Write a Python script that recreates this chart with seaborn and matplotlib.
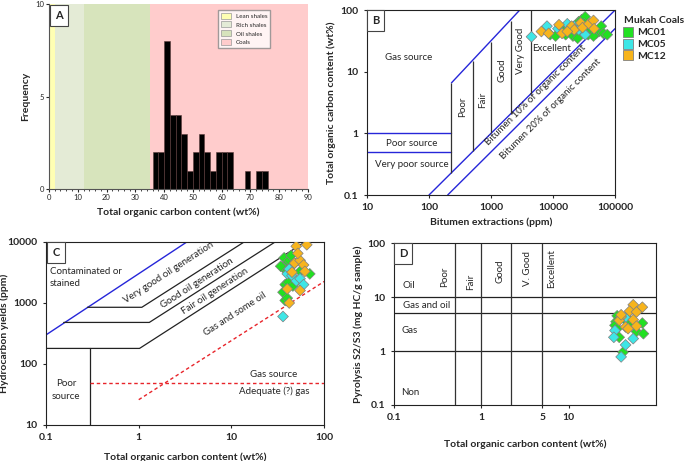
"""Four-panel source-rock plot for the Mukah coals (TOC histogram, bitumen, HC yield, S2/S3)."""

import matplotlib

matplotlib.use("Agg")
import matplotlib.pyplot as plt  # noqa: E402
import pandas as pd  # noqa: E402
import seaborn as sns  # noqa: E402
from matplotlib.patches import Patch  # noqa: E402
from matplotlib.ticker import NullLocator, MultipleLocator  # noqa: E402

# ---- panel A: TOC histogram -------------------------------------------------
toc_bin_edges = [36, 38, 40, 42, 44, 46, 48, 50, 52, 54, 56, 58, 60, 62, 64,
                 66, 68, 70, 72, 74, 76]
toc_counts = [2, 2, 8, 4, 4, 3, 1, 2, 3, 2, 1, 2, 2, 2, 0, 0, 1, 0, 1, 1]
zone_names = ["Lean shales", "Rich shales", "Oil shales", "Coals"]
zone_edges = [0, 2, 12, 35, 90]
zone_colors = ["#ffffb3", "#e4ebd6", "#d7e4bc", "#ffcccc"]

# ---- panel B: bitumen vs TOC ------------------------------------------------
b_mc01_bit = [9000, 11000, 14000, 16000, 18000, 21000, 23000, 26000, 29000, 33000,
              35000, 37000, 40000, 42000, 50000, 55000, 60000, 65000, 75000, 32000,
              45000, 25000]
b_mc01_toc = [40, 38, 47, 40, 55, 38, 45, 65, 70, 78, 45, 40, 55, 48, 42, 45, 55,
              42, 40, 60, 38, 35]
b_mc05_bit = [4500, 8000, 12000, 17000, 22000, 30000, 33000, 26000]
b_mc05_toc = [37, 55, 50, 60, 55, 45, 40, 48]
b_mc12_bit = [6500, 8500, 12500, 14000, 20000, 22000, 28000, 30000, 38000, 45000,
              46000, 17000]
b_mc12_toc = [45, 42, 58, 42, 55, 48, 62, 52, 60, 68, 50, 45]

b_src_x = [10, 230]
b_poor_src_y = [1, 1]
b_vpoor_src_y = [0.5, 0.5]
b_upper_x = [230, 2900]
b_upper_y = [6.6, 100]
b_bit10_x = [100, 100000]
b_bit10_y = [0.1, 100]
b_bit20_x = [200, 100000]
b_bit20_y = [0.1, 50]
b_grade_x = [230, 520, 1000, 2100, 4400]
b_grade_lo = [0.23, 0.52, 1.0, 2.1, 4.4]
b_grade_hi = [6.6, 15, 30, 66, 100]

# ---- panel C: TOC vs hydrocarbon yield -------------------------------------
c_mc01_toc = [37, 38, 36, 40, 42, 38, 41, 36, 38, 40, 55, 70, 44, 48, 34, 46]
c_mc01_hc = [5500, 4200, 3800, 3500, 5000, 2000, 2200, 1500, 1100, 1200, 3300,
             3000, 6000, 4500, 4000, 1900]
c_mc05_toc = [36, 40, 45, 50, 55, 60, 42]
c_mc05_hc = [600, 3000, 2800, 2300, 2500, 2000, 3600]
c_mc12_toc = [50, 65, 48, 55, 60, 45, 62, 40, 55, 42, 52]
c_mc12_hc = [8500, 9000, 4500, 5000, 4200, 3200, 3300, 1700, 1600, 1000, 6500]

c_contam_x = [0.1, 3.3]
c_contam_y = [300, 10000]
c_vgood_x = [0.28, 1.08, 13.7]
c_vgood_y = [850, 850, 10000]
c_good_x = [0.155, 1.3, 29.6]
c_good_y = [480, 480, 10000]
c_fair_x = [0.1, 1.02, 62]
c_fair_y = [180, 180, 10000]
c_poor_x = [0.3, 0.3]
c_poor_y = [10, 180]
c_gas_x = [0.3, 100]
c_gas_y = [48, 48]
c_gasoil_x = [1.0, 100]
c_gasoil_y = [26, 2250]

# ---- panel D: TOC vs S2/S3 --------------------------------------------------
d_mc01_toc = [36, 35, 34, 36, 38, 45, 50, 60, 70, 72, 42, 48]
d_mc01_s2s3 = [4.5, 3.5, 3.0, 2.6, 1.8, 3.7, 3.3, 2.3, 3.3, 2.1, 0.95, 4.0]
d_mc05_toc = [34, 33, 45, 55, 40, 45]
d_mc05_s2s3 = [2.4, 1.8, 1.3, 1.7, 0.78, 4.2]
d_mc12_toc = [55, 70, 50, 60, 40, 38, 45, 55, 60, 48, 40]
d_mc12_s2s3 = [7.2, 6.5, 5.5, 5.3, 4.3, 3.7, 2.8, 3.8, 2.9, 2.6, 4.7]

d_type_y = [10, 5, 1]
d_grade_x = [0.5, 1, 2.2, 5]

samples = ["MC01", "MC05", "MC12"]
sample_colors = {"MC01": "#22e022", "MC05": "#3ee6e6", "MC12": "#f7b41c"}

sns.set_style("ticks")
plt.rcParams["font.family"] = ["Lato", "DejaVu Sans"]
plt.rcParams["axes.edgecolor"] = "#222222"
plt.rcParams["xtick.major.size"] = 2.5
plt.rcParams["ytick.major.size"] = 2.5

fig = plt.figure(figsize=(6.85, 4.61), dpi=100)


def _frame(values_x, values_y, name):
    return pd.DataFrame({"x": values_x, "y": values_y, "sample": name})


def _scatter(ax, frames):
    df = pd.concat(frames, ignore_index=True)
    sns.scatterplot(data=df, x="x", y="y", hue="sample", palette=sample_colors,
                    marker="D", s=30, edgecolor="#808080", linewidth=0.5,
                    legend=False, ax=ax, zorder=5)


def _panel_tag(ax, letter, x, y):
    ax.text(x, y, letter, transform=ax.transAxes, ha="center", va="center",
            fontsize=8, fontweight="bold",
            bbox=dict(boxstyle="square,pad=0.45", fc="white", ec="#444444", lw=0.8))


def _ticks(ax, size=7.5):
    for lab in ax.get_xticklabels() + ax.get_yticklabels():
        lab.set_fontsize(size)
        lab.set_fontweight("bold")


# ---------------- A ----------------
axA = fig.add_axes([0.0715, 0.590, 0.378, 0.401])
for lo, hi, col in zip(zone_edges[:-1], zone_edges[1:], zone_colors):
    axA.axvspan(lo, hi, color=col, lw=0, zorder=0)
centers = [(a + b) / 2 for a, b in zip(toc_bin_edges[:-1], toc_bin_edges[1:])]
sns.histplot(x=centers, weights=toc_counts, bins=toc_bin_edges, color="black",
             edgecolor="#5a3a3a", linewidth=0.4, alpha=1, ax=axA, zorder=2)
axA.set_xlim(0, 90)
axA.set_ylim(0, 10)
axA.set_xticks(range(0, 91, 10))
axA.xaxis.set_minor_locator(MultipleLocator(2))
axA.set_yticks([0, 5, 10])
axA.tick_params(which="minor", length=1.5)
axA.tick_params(labelsize=5.5, length=2.5, pad=1)
for s in ("top", "right"):
    axA.spines[s].set_visible(False)
for s in ("left", "bottom"):
    axA.spines[s].set_color("#555555")
axA.set_xlabel("Total organic carbon content (wt%)", fontsize=7.5, fontweight="bold",
               labelpad=5)
axA.set_ylabel("Frequency", fontsize=7.5, fontweight="bold")
axA.yaxis.set_label_coords(-0.073, 0.5)
zone_handles = [Patch(fc=c, ec="#999999", lw=0.5) for c in zone_colors]
axA.legend(zone_handles, zone_names, loc="upper right", bbox_to_anchor=(0.865, 0.985),
           fontsize=4.5, frameon=True, fancybox=False, edgecolor="#888888",
           handlelength=1.6, handleheight=1.1, borderpad=0.4, labelspacing=0.45)
_panel_tag(axA, "A", 0.039, 0.94)

# ---------------- B ----------------
axB = fig.add_axes([0.5358, 0.577, 0.362, 0.401])
axB.set_xscale("log")
axB.set_yscale("log")
blue = "#2626d9"
axB.plot(b_src_x, b_poor_src_y, color=blue, lw=1)
axB.plot(b_src_x, b_vpoor_src_y, color=blue, lw=1)
axB.plot(b_upper_x, b_upper_y, color=blue, lw=1)
axB.plot(b_bit10_x, b_bit10_y, color=blue, lw=1)
axB.plot(b_bit20_x, b_bit20_y, color=blue, lw=1)
axB.vlines(b_grade_x, b_grade_lo, b_grade_hi, color="#333333", lw=0.9)
_scatter(axB, [_frame(b_mc01_bit, b_mc01_toc, "MC01"),
               _frame(b_mc05_bit, b_mc05_toc, "MC05"),
               _frame(b_mc12_bit, b_mc12_toc, "MC12")])
axB.set_xlim(10, 100000)
axB.set_ylim(0.1, 100)
axB.set_xticks([10, 100, 1000, 10000, 100000])
axB.set_xticklabels(["10", "100", "1000", "10000", "100000"])
axB.set_yticks([0.1, 1, 10, 100])
axB.set_yticklabels(["0.1", "1", "10", "100"])
axB.xaxis.set_minor_locator(NullLocator())
axB.yaxis.set_minor_locator(NullLocator())
_ticks(axB)
axB.set_xlabel("Bitumen extractions (ppm)", fontsize=7.5, fontweight="bold", labelpad=4)
axB.set_ylabel("Total organic carbon content (wt%)", fontsize=7.5, fontweight="bold",
               labelpad=3)
tk = dict(fontsize=7, ha="center", va="center")
axB.text(47, 17, "Gas source", **tk)
axB.text(53, 0.69, "Poor source", **tk)
axB.text(53, 0.31, "Very poor source", **tk)
axB.text(350, 2.7, "Poor", rotation=90, **tk)
axB.text(730, 3.5, "Fair", rotation=90, **tk)
axB.text(1500, 10.6, "Good", rotation=90, **tk)
axB.text(3020, 22, "Very Good", rotation=90, **tk)
axB.text(9550, 24, "Excellent", **tk)
axB.text(5200, 4.2, "Bitumen 10% of organic content", rotation=45, **tk)
axB.text(9000, 2.5, "Bitumen 20% of organic content", rotation=45, **tk)
_panel_tag(axB, "B", 0.034, 0.946)
leg_handles = [plt.Line2D([], [], marker="s", ls="", ms=7, mfc=sample_colors[k],
                          mec="#808080", mew=0.6) for k in samples]
legB = axB.legend(leg_handles, samples, title="Mukah Coals", loc="upper left",
                  bbox_to_anchor=(1.01, 1.0), frameon=False, handlelength=0.8,
                  handletextpad=0.5, labelspacing=0.25, borderpad=0.1,
                  prop=dict(size=7.5, weight="bold"),
                  title_fontproperties=dict(size=7.5, weight="bold"))
legB._legend_box.align = "left"

# ---------------- C ----------------
axC = fig.add_axes([0.0672, 0.0781, 0.406, 0.397])
axC.set_xscale("log")
axC.set_yscale("log")
axC.plot(c_contam_x, c_contam_y, color=blue, lw=1)
for xs, ys in ((c_vgood_x, c_vgood_y), (c_good_x, c_good_y), (c_fair_x, c_fair_y),
               (c_poor_x, c_poor_y)):
    axC.plot(xs, ys, color="#222222", lw=0.9)
axC.plot(c_gas_x, c_gas_y, color="#e8242a", lw=1, ls=(0, (2.5, 2)))
axC.plot(c_gasoil_x, c_gasoil_y, color="#e8242a", lw=1, ls=(0, (2.5, 2)))
_scatter(axC, [_frame(c_mc01_toc, c_mc01_hc, "MC01"),
               _frame(c_mc05_toc, c_mc05_hc, "MC05"),
               _frame(c_mc12_toc, c_mc12_hc, "MC12")])
axC.set_xlim(0.1, 100)
axC.set_ylim(10, 10000)
axC.set_xticks([0.1, 1, 10, 100])
axC.set_xticklabels(["0.1", "1", "10", "100"])
axC.set_yticks([10, 100, 1000, 10000])
axC.set_yticklabels(["10", "100", "1000", "10000"])
axC.xaxis.set_minor_locator(NullLocator())
axC.yaxis.set_minor_locator(NullLocator())
_ticks(axC)
axC.set_xlabel("Total organic carbon content (wt%)", fontsize=7.5, fontweight="bold",
               labelpad=7)
axC.set_ylabel("Hydrocarbon yields (ppm)", fontsize=7.5, fontweight="bold")
axC.yaxis.set_label_coords(-0.132, 0.5)
axC.text(0.11, 3300, "Contaminated or", fontsize=7, ha="left", va="center")
axC.text(0.11, 2100, "stained", fontsize=7, ha="left", va="center")
axC.text(2.1, 3100, "Very good oil generation", rotation=33, **tk)
axC.text(4.25, 2150, "Good oil generation", rotation=33, **tk)
axC.text(6.7, 1550, "Fair oil generation", rotation=33, **tk)
axC.text(11, 650, "Gas and some oil", rotation=33, **tk)
axC.text(0.165, 38, "Poor\nsource", linespacing=1.6, **tk)
axC.text(28.5, 68, "Gas source", **tk)
axC.text(29, 36, "Adequate (?) gas", **tk)
_panel_tag(axC, "C", 0.036, 0.945)

# ---------------- D ----------------
axD = fig.add_axes([0.575, 0.1215, 0.3825, 0.351])
axD.set_xscale("log")
axD.set_yscale("log")
axD.hlines(d_type_y, 0.1, 100, color="#222222", lw=0.9)
axD.vlines(d_grade_x, 0.1, 100, color="#333333", lw=0.9)
_scatter(axD, [_frame(d_mc01_toc, d_mc01_s2s3, "MC01"),
               _frame(d_mc05_toc, d_mc05_s2s3, "MC05"),
               _frame(d_mc12_toc, d_mc12_s2s3, "MC12")])
axD.set_xlim(0.1, 100)
axD.set_ylim(0.1, 100)
axD.set_xticks([0.1, 1, 5, 10])
axD.set_xticklabels(["0.1", "1", "5", "10"])
axD.set_yticks([0.1, 1, 10, 100])
axD.set_yticklabels(["0.1", "1", "10", "100"])
axD.xaxis.set_minor_locator(NullLocator())
axD.yaxis.set_minor_locator(NullLocator())
_ticks(axD)
axD.set_xlabel("Total organic carbon content (wt%)", fontsize=7.5, fontweight="bold",
               labelpad=12)
axD.set_ylabel("Pyrolysis S2/S3 (mg HC/g sample)", fontsize=7.5, fontweight="bold",
               labelpad=3)
axD.text(0.15, 16.5, "Oil", **tk)
axD.text(0.24, 7.1, "Gas and oil", **tk)
axD.text(0.15, 2.4, "Gas", **tk)
axD.text(0.155, 0.17, "Non", **tk)
axD.text(0.377, 24, "Poor", rotation=90, **tk)
axD.text(0.76, 19.5, "Fair", rotation=90, **tk)
axD.text(1.63, 30, "Good", rotation=90, **tk)
axD.text(3.37, 34, "V. Good", rotation=90, **tk)
axD.text(6.36, 34, "Excellent", rotation=90, **tk)
_panel_tag(axD, "D", 0.036, 0.938)

fig.savefig("out.png", dpi=100)
plt.close(fig)
